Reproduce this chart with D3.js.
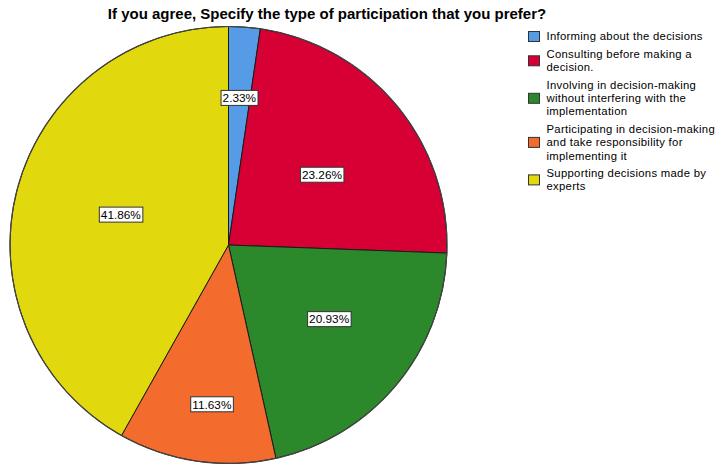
<!DOCTYPE html>
<html>
<head>
<meta charset="utf-8">
<script src="https://cdn.jsdelivr.net/npm/d3@7/dist/d3.min.js"></script>
<style>
  html, body { margin: 0; padding: 0; background: #fff; }
  svg { display: block; font-family: "Liberation Sans", Arial, sans-serif; }
</style>
</head>
<body>
<svg id="chart" width="720" height="464"></svg>
<script>
// ---- data ----
const titleText = "If you agree, Specify the type of participation that you prefer?";
const categories = [
  "Informing about the decisions",
  "Consulting before making a decision.",
  "Involving in decision-making without interfering with the implementation",
  "Participating in decision-making and take responsibility for implementing it",
  "Supporting decisions made by experts"
];
const legendLines = [
  ["Informing about the decisions"],
  ["Consulting before making a", "decision."],
  ["Involving in decision-making", "without interfering with the", "implementation"],
  ["Participating in decision-making", "and take responsibility for", "implementing it"],
  ["Supporting decisions made by", "experts"]
];
const percentages = [2.33, 23.26, 20.93, 11.63, 41.86];
const colors = ["#559be6", "#d70034", "#2b882b", "#f36b2d", "#e2d80e"];

// ---- layout tweaks (label placement, as fraction of radius / degrees) ----
const labelRadiusFrac = [0.675, 0.535, 0.572, 0.733, 0.512];
const labelAngleShift = [0, 2.8, -3.4, -2.4, 1.1];

const svg = d3.select("#chart");
const cx = 228.5, cy = 245, R = 218.5;

svg.append("text")
  .attr("x", 327).attr("y", 19)
  .attr("text-anchor", "middle")
  .attr("font-size", 15).attr("font-weight", "bold")
  .attr("fill", "#000")
  .text(titleText);

const data = categories.map((c, i) => ({ cat: c, value: percentages[i], i }));
const pie = d3.pie().value(d => d.value).sort(null).startAngle(0).endAngle(2 * Math.PI);
const arcs = pie(data);
const arc = d3.arc().innerRadius(0).outerRadius(R);

const g = svg.append("g").attr("transform", `translate(${cx},${cy})`);
g.selectAll("path.slice").data(arcs).enter().append("path")
  .attr("class", "slice")
  .attr("d", arc)
  .attr("fill", d => colors[d.data.i])
  .attr("stroke", "#1a1a1a")
  .attr("stroke-width", 1)
  .attr("stroke-linejoin", "round");

// outer rim
g.append("circle").attr("r", R).attr("fill", "none").attr("stroke", "#444").attr("stroke-width", 1.2);

const fmt = d3.format(".2f");
const lab = g.selectAll("g.lab").data(arcs).enter().append("g").attr("class", "lab")
  .attr("transform", d => {
    const a = (d.startAngle + d.endAngle) / 2 + labelAngleShift[d.data.i] * Math.PI / 180;
    const r = R * labelRadiusFrac[d.data.i];
    return `translate(${r * Math.sin(a)},${-r * Math.cos(a)})`;
  });
lab.each(function(d) {
  const sel = d3.select(this);
  const t = sel.append("text")
    .attr("text-anchor", "middle")
    .attr("dy", "0.36em")
    .attr("font-size", 11.8)
    .attr("fill", "#000")
    .text(fmt(d.data.value) + "%");
  const bb = t.node().getBBox();
  sel.insert("rect", "text")
    .attr("x", bb.x - 1.5).attr("y", -7.5)
    .attr("width", bb.width + 3).attr("height", 15)
    .attr("fill", "#fff")
    .attr("stroke", "#333").attr("stroke-width", 1);
});

// legend
const legend = svg.append("g").attr("transform", "translate(528,0)");
const lineH = 13.2, groupGap = 4.5;
let y = 36.5;
legendLines.forEach((lines, i) => {
  const top = y;
  lines.forEach((ln, k) => {
    legend.append("text")
      .attr("x", 18.5).attr("y", y + k * lineH)
      .attr("dy", "0.35em")
      .attr("font-size", 11.3)
      .attr("letter-spacing", 0.3)
      .attr("fill", "#000")
      .text(ln);
  });
  const center = top + (lines.length - 1) * lineH / 2;
  legend.append("rect")
    .attr("x", 0.5).attr("y", center - 5)
    .attr("width", 11).attr("height", 10)
    .attr("fill", colors[i])
    .attr("stroke", "#333").attr("stroke-width", 1);
  y += lines.length * lineH + groupGap;
});
</script>
</body>
</html>
